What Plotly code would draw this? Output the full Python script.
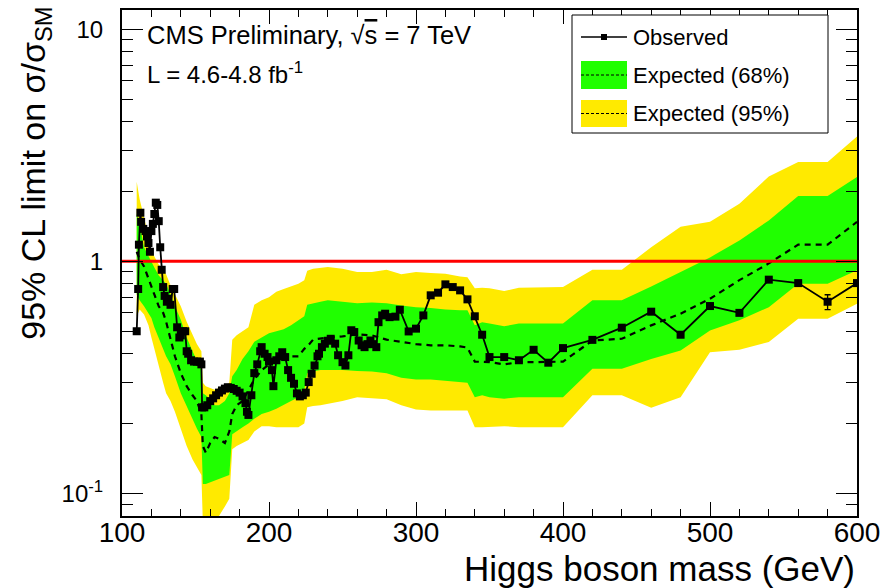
import math
import plotly.graph_objects as go

# ---------------- data ----------------
exp_mass = [110, 112, 115, 118, 120, 122, 125, 128, 130, 133, 136, 140, 144, 148, 151, 154, 155, 157,
            160, 163, 166, 170, 173, 175, 178, 182, 186, 190, 195, 200, 205, 210, 215, 220, 224, 226,
            230, 235, 240, 250, 260, 270, 280, 290, 300, 310, 320, 330, 335, 340, 345, 350, 360, 370,
            380, 390, 400, 420, 440, 460, 480, 500, 520, 540, 560, 580, 600]
exp_median = [1.10, 1.02, 0.95, 0.85, 0.78, 0.72, 0.64, 0.60, 0.55, 0.46, 0.39, 0.33, 0.29, 0.265, 0.25, 0.22, 0.16, 0.15,
              0.165, 0.175, 0.172, 0.165, 0.185, 0.22, 0.24, 0.25, 0.28, 0.31, 0.34, 0.36, 0.375, 0.385, 0.39, 0.39, 0.42, 0.43,
              0.46, 0.465, 0.47, 0.475, 0.485, 0.48, 0.46, 0.45, 0.44, 0.435, 0.435, 0.43, 0.425, 0.37, 0.37, 0.368, 0.36, 0.368,
              0.368, 0.368, 0.37, 0.456, 0.464, 0.53, 0.595, 0.69, 0.83, 0.98, 1.18, 1.18, 1.48]
exp_1s_hi = [1.60, 1.45, 1.15, 1.05, 1.00, 0.94, 0.87, 0.83, 0.80, 0.72, 0.64, 0.56, 0.47, 0.41, 0.37, 0.34, 0.27, 0.265,
             0.255, 0.24, 0.24, 0.25, 0.27, 0.32, 0.34, 0.38, 0.41, 0.45, 0.47, 0.49, 0.50, 0.51, 0.53, 0.56, 0.58, 0.65,
             0.66, 0.67, 0.68, 0.67, 0.66, 0.665, 0.66, 0.645, 0.635, 0.63, 0.62, 0.615, 0.615, 0.53, 0.547, 0.54, 0.525, 0.54,
             0.54, 0.54, 0.54, 0.68, 0.68, 0.78, 0.90, 1.04, 1.23, 1.50, 1.91, 1.91, 2.31]
exp_1s_lo = [0.72, 0.68, 0.64, 0.60, 0.57, 0.52, 0.46, 0.42, 0.39, 0.36, 0.32, 0.27, 0.24, 0.21, 0.19, 0.175, 0.11, 0.11,
             0.112, 0.114, 0.116, 0.118, 0.12, 0.18, 0.185, 0.193, 0.20, 0.21, 0.22, 0.225, 0.232, 0.24, 0.25, 0.26, 0.28, 0.33,
             0.335, 0.34, 0.34, 0.34, 0.337, 0.335, 0.33, 0.315, 0.31, 0.31, 0.305, 0.302, 0.30, 0.26, 0.265, 0.26, 0.256, 0.26,
             0.26, 0.26, 0.26, 0.345, 0.345, 0.38, 0.413, 0.504, 0.557, 0.635, 0.80, 0.80, 0.915]
exp_2s_hi = [2.20, 1.85, 1.55, 1.25, 1.12, 1.05, 0.97, 0.92, 0.88, 0.79, 0.72, 0.64, 0.55, 0.48, 0.44, 0.41, 0.30, 0.29,
             0.285, 0.28, 0.285, 0.29, 0.30, 0.46, 0.48, 0.50, 0.52, 0.65, 0.68, 0.70, 0.74, 0.76, 0.78, 0.80, 0.83, 0.91,
             0.93, 0.94, 0.945, 0.93, 0.90, 0.90, 0.92, 0.88, 0.90, 0.89, 0.885, 0.86, 0.855, 0.765, 0.77, 0.765, 0.745, 0.77,
             0.77, 0.77, 0.775, 0.92, 0.92, 1.15, 1.41, 1.48, 1.77, 2.32, 2.68, 2.68, 3.45]
exp_2s_lo = [0.58, 0.62, 0.59, 0.53, 0.47, 0.42, 0.36, 0.30, 0.27, 0.25, 0.225, 0.19, 0.16, 0.14, 0.13, 0.12, 0.075, 0.075,
             0.076, 0.077, 0.08, 0.088, 0.095, 0.155, 0.16, 0.165, 0.17, 0.185, 0.195, 0.195, 0.193, 0.193, 0.193, 0.193, 0.20, 0.235,
             0.238, 0.24, 0.243, 0.25, 0.26, 0.258, 0.255, 0.24, 0.23, 0.228, 0.228, 0.228, 0.228, 0.193, 0.193, 0.193, 0.195, 0.193,
             0.193, 0.193, 0.193, 0.265, 0.265, 0.234, 0.26, 0.406, 0.416, 0.449, 0.566, 0.566, 0.657]

obs_mass = [110, 111, 111.5, 112.5, 113, 114.5, 116, 117, 118, 119, 120, 121, 122, 123, 124, 125, 126, 127, 128, 129,
            130.5, 131.5, 133, 134.5, 135.5, 137.5, 139, 140, 141.5, 143, 144, 145, 147, 149, 151, 153, 154, 154.5,
            156, 158, 160, 162, 164, 166, 168, 170, 172, 174, 176, 178, 180, 182, 184, 185, 186, 188, 190, 192, 194,
            195, 197, 199, 200, 202, 203, 205, 207, 209, 211, 213, 215, 217, 219, 221, 223, 225, 227, 229, 231, 233,
            234, 236, 238, 240, 242, 245, 247, 250, 252, 254, 256, 258, 261, 263, 265, 267, 269, 271, 273, 274.5,
            277, 279, 282, 286, 289, 295, 300, 305, 310, 315, 320, 325, 330, 335, 340, 345, 350, 360, 370, 380, 390,
            400, 420, 440, 460, 480, 500, 520, 540, 560, 580, 600]
obs_limit = [0.50, 0.76, 1.18, 1.62, 1.48, 1.38, 1.35, 1.28, 1.20, 1.10, 1.35, 1.45, 1.60, 1.79, 1.75, 1.49, 1.15, 0.92, 0.775, 0.71,
             0.67, 0.69, 0.65, 0.76, 0.76, 0.52, 0.47, 0.48, 0.50, 0.50, 0.41, 0.40, 0.375, 0.37, 0.37, 0.37, 0.36, 0.235,
             0.235, 0.24, 0.25, 0.257, 0.265, 0.272, 0.278, 0.283, 0.287, 0.285, 0.282, 0.277, 0.272, 0.262, 0.245, 0.225, 0.218, 0.265, 0.33, 0.36, 0.41,
             0.427, 0.40, 0.387, 0.37, 0.34, 0.29, 0.375, 0.39, 0.406, 0.387, 0.34, 0.315, 0.297, 0.27, 0.262, 0.265, 0.272, 0.302, 0.328, 0.356, 0.39,
             0.40, 0.427, 0.442, 0.455, 0.464, 0.442, 0.394, 0.368, 0.356, 0.394, 0.505, 0.496, 0.456, 0.435, 0.427, 0.44, 0.456, 0.44, 0.427, 0.547,
             0.585, 0.595, 0.575, 0.578, 0.619, 0.499, 0.513, 0.585, 0.714, 0.733, 0.796, 0.775, 0.75, 0.686, 0.58, 0.483, 0.387, 0.387, 0.375, 0.416, 0.366,
             0.423, 0.459, 0.518, 0.607, 0.483, 0.642, 0.60, 0.834, 0.806, 0.67, 0.806]
assert len(obs_mass) == len(obs_limit)
for arr in (exp_median, exp_1s_hi, exp_1s_lo, exp_2s_hi, exp_2s_lo):
    assert len(arr) == len(exp_mass)

err_mass = [580]
err_value = [0.67]
err_plus = [0.048]
err_minus = [0.05]

sm_level = 1.0
x_range = [100, 600]
y_range = [0.08, 12.1]

x_ticks = [100, 200, 300, 400, 500, 600]
y_ticks = [0.1, 1, 10]
y_ticktext = ["10<sup>-1</sup>", "1", "10"]
y_minor = [0.08, 0.09, 0.2, 0.3, 0.4, 0.5, 0.6, 0.7, 0.8, 0.9, 2, 3, 4, 5, 6, 7, 8, 9]

# ---------------- style ----------------
FONT = "Liberation Sans, Arial, Helvetica, sans-serif"
GREEN = "#20ff00"
YELLOW = "#ffea00"

fig = go.Figure()

fig.add_trace(go.Scatter(
    x=exp_mass + exp_mass[::-1], y=exp_2s_hi + exp_2s_lo[::-1],
    fill="toself", fillcolor=YELLOW, line=dict(width=0), mode="lines", hoverinfo="skip"))
fig.add_trace(go.Scatter(
    x=exp_mass + exp_mass[::-1], y=exp_1s_hi + exp_1s_lo[::-1],
    fill="toself", fillcolor=GREEN, line=dict(width=0), mode="lines", hoverinfo="skip"))
fig.add_trace(go.Scatter(
    x=exp_mass, y=exp_median, mode="lines",
    line=dict(color="black", width=2.2, dash="6px,5px")))
fig.add_trace(go.Scatter(
    x=x_range, y=[sm_level, sm_level], mode="lines",
    line=dict(color="#ff0000", width=3)))
fig.add_trace(go.Scatter(
    x=obs_mass, y=obs_limit, mode="lines+markers",
    line=dict(color="black", width=1.8),
    marker=dict(symbol="square", size=8, color="black")))
fig.add_trace(go.Scatter(
    x=err_mass, y=err_value, mode="markers",
    marker=dict(size=1, color="black"),
    error_y=dict(type="data", array=err_plus, arrayminus=err_minus,
                 color="black", thickness=1.3, width=3)))

fig.update_layout(
    width=886, height=588,
    margin=dict(l=122, r=29, t=10, b=72, autoexpand=False),
    plot_bgcolor="white", paper_bgcolor="white",
    showlegend=False,
    font=dict(family=FONT, color="black"),
)

fig.update_xaxes(
    range=x_range, tickmode="array", tickvals=x_ticks, automargin=False,
    ticks="inside", ticklen=14, tickwidth=1, tickcolor="black",
    mirror="allticks", showline=True, linecolor="black", linewidth=2,
    showgrid=False, zeroline=False,
    tickfont=dict(size=28, family=FONT), ticklabelstandoff=-10,
    minor=dict(dtick=20, tick0=100, ticks="inside", ticklen=7, tickcolor="black", tickwidth=1, showgrid=False),
)
fig.update_yaxes(
    type="log", range=[math.log10(y_range[0]), math.log10(y_range[1])], automargin=False,
    tickmode="array", tickvals=y_ticks, ticktext=y_ticktext,
    ticks="inside", ticklen=21, tickwidth=1, tickcolor="black",
    mirror="allticks", showline=True, linecolor="black", linewidth=2,
    showgrid=False, zeroline=False,
    tickfont=dict(size=24, family=FONT), ticklabelstandoff=12,
    minor=dict(tickmode="array", tickvals=y_minor, ticks="inside", ticklen=11,
               tickcolor="black", tickwidth=1, showgrid=False),
)

fig.add_annotation(
    text="95% CL limit on σ/σ<sub>SM</sub>", textangle=-90,
    xref="paper", yref="paper", x=-0.118, y=1.01, xanchor="center", yanchor="top",
    showarrow=False, font=dict(size=34, family=FONT))
fig.add_annotation(
    text="Higgs boson mass (GeV)",
    xref="paper", yref="paper", x=1.0, y=-0.1045, xanchor="right", yanchor="middle",
    showarrow=False, font=dict(size=35, family=FONT))

fig.add_annotation(
    text="CMS Preliminary, √<span style='text-decoration:overline'>s</span> = 7 TeV",
    xref="paper", yref="paper", x=0.031, y=0.951, xanchor="left", yanchor="middle",
    showarrow=False, font=dict(size=25.5, family=FONT))
fig.add_annotation(
    text="L = 4.6-4.8 fb<sup>-1</sup>",
    xref="paper", yref="paper", x=0.031, y=0.876, xanchor="left", yanchor="middle",
    showarrow=False, font=dict(size=24, family=FONT))

def px(x):
    return (x - 122) / 735.0

def py(y):
    return (516 - y) / 506.0

shapes = []
shapes.append(dict(type="rect", xref="paper", yref="paper", x0=px(572), x1=px(828), y0=py(133), y1=py(15),
                   fillcolor="white", line=dict(color="black", width=1), layer="above"))
shapes.append(dict(type="line", xref="paper", yref="paper", x0=px(581), x1=px(627), y0=py(37), y1=py(37),
                   line=dict(color="black", width=1.5), layer="above"))
shapes.append(dict(type="rect", xref="paper", yref="paper", x0=px(601), x1=px(607), y0=py(40), y1=py(34),
                   fillcolor="black", line=dict(width=0), layer="above"))
shapes.append(dict(type="rect", xref="paper", yref="paper", x0=px(581), x1=px(627), y0=py(89), y1=py(61),
                   fillcolor=GREEN, line=dict(width=0), layer="above"))
shapes.append(dict(type="line", xref="paper", yref="paper", x0=px(581), x1=px(627), y0=py(75), y1=py(75),
                   line=dict(color="black", width=1, dash="3px,2px"), layer="above"))
shapes.append(dict(type="rect", xref="paper", yref="paper", x0=px(581), x1=px(627), y0=py(127), y1=py(100),
                   fillcolor=YELLOW, line=dict(width=0), layer="above"))
shapes.append(dict(type="line", xref="paper", yref="paper", x0=px(581), x1=px(627), y0=py(113.5), y1=py(113.5),
                   line=dict(color="black", width=1, dash="3px,2px"), layer="above"))
fig.update_layout(shapes=shapes)

for label, ypix in (("Observed", 37), ("Expected (68%)", 75), ("Expected (95%)", 113)):
    fig.add_annotation(text=label, xref="paper", yref="paper", x=px(631), y=py(ypix),
                       xanchor="left", yanchor="middle", showarrow=False,
                       font=dict(size=22, family=FONT))

fig.write_html("out.html", config={"displayModeBar": False},
               post_script="document.body.style.margin='0';document.body.style.overflow='hidden';")
